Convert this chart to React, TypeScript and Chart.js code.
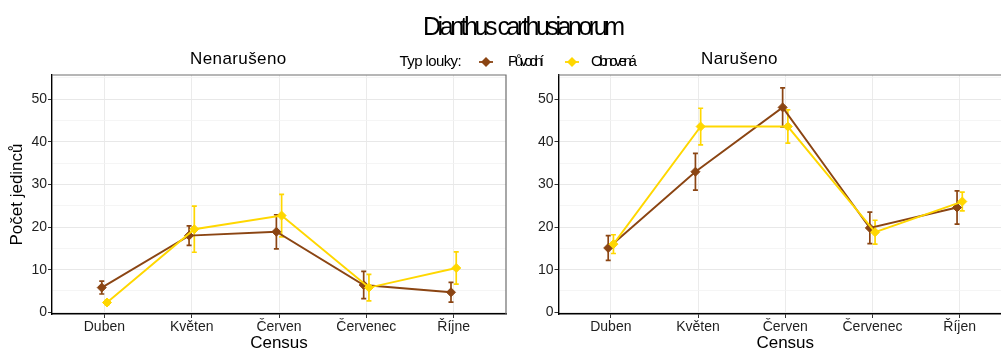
import React, { useEffect, useRef } from "react";
import { Chart, registerables } from "chart.js";

Chart.register(...registerables);

// Census months shown on each facet
const monthsUndisturbed = ["Duben", "Květen", "Červen", "Červenec", "Říjne"];
const monthsDisturbed = ["Duben", "Květen", "Červen", "Červenec", "Říjen"];

// y-axis ticks: labelled majors every 10, minor lines in between
const yTickValues = [0, 5, 10, 15, 20, 25, 30, 35, 40, 45, 50, 55];

// Nenarušeno facet – means and standard errors
const origMeanUndist = [5.8, 18.0, 18.9, 6.4, 4.7];
const origSeUndist = [1.5, 2.3, 4.0, 3.2, 2.3];
const restMeanUndist = [2.3, 19.5, 22.7, 5.8, 10.4];
const restSeUndist = [0.5, 5.4, 5.0, 3.1, 3.8];

// Narušeno facet – means and standard errors
const origMeanDist = [15.1, 33.0, 48.1, 19.8, 24.6];
const origSeDist = [2.9, 4.3, 4.6, 3.7, 3.9];
const restMeanDist = [16.0, 43.6, 43.6, 18.8, 26.0];
const restSeDist = [2.2, 4.3, 3.9, 2.8, 2.2];

const BROWN = "#8B4513";
const GOLD = "#FFD700";
const DODGE = 0.03;
const FONT = '"Liberation Sans", Arial, Helvetica, sans-serif';

type Series = { label: string; color: string; mean: number[]; se: number[]; shift: number };

// whiskers with caps, drawn under lines and points
const errorBars = {
  id: "errorBars",
  beforeDatasetsDraw(chart: any) {
    const { ctx } = chart;
    const xs = chart.scales.x;
    const ys = chart.scales.y;
    chart.data.datasets.forEach((ds: any) => {
      ctx.save();
      ctx.strokeStyle = ds.borderColor;
      ctx.lineWidth = 1.7;
      ds.data.forEach((p: any, i: number) => {
        const px = xs.getPixelForValue(p.x);
        const top = ys.getPixelForValue(p.y + ds.se[i]);
        const bot = ys.getPixelForValue(p.y - ds.se[i]);
        ctx.beginPath();
        ctx.moveTo(px, top);
        ctx.lineTo(px, bot);
        ctx.moveTo(px - 2.5, top);
        ctx.lineTo(px + 2.5, top);
        ctx.moveTo(px - 2.5, bot);
        ctx.lineTo(px + 2.5, bot);
        ctx.stroke();
      });
      ctx.restore();
    });
  },
};

// grey panel border on the top and right sides
const panelFrame = {
  id: "panelFrame",
  afterDatasetsDraw(chart: any) {
    const { ctx, chartArea: a } = chart;
    ctx.save();
    ctx.strokeStyle = "#6e6e6e";
    ctx.lineWidth = 1.2;
    ctx.beginPath();
    ctx.moveTo(a.left, a.top);
    ctx.lineTo(a.right, a.top);
    ctx.lineTo(a.right, a.bottom);
    ctx.stroke();
    ctx.restore();
  },
};

type PanelProps = {
  left: number;
  width: number;
  height: number;
  plotLeft: number;
  plotRight: number;
  plotTop: number;
  plotBottom: number;
  months: string[];
  series: Series[];
  yTitle?: string;
};

function FacetPanel(props: PanelProps) {
  const ref = useRef<HTMLCanvasElement>(null);
  const { left, width, height, plotLeft, plotRight, plotTop, plotBottom, months, series, yTitle } = props;

  useEffect(() => {
    const isMajor = (v: number) => v % 10 === 0;
    const chart = new Chart(ref.current as HTMLCanvasElement, {
      type: "line",
      data: {
        datasets: series.map((s, k) => ({
          label: s.label,
          data: s.mean.map((m, i) => ({ x: i + s.shift, y: m })),
          se: s.se,
          borderColor: s.color,
          backgroundColor: s.color,
          borderWidth: 1.9,
          pointStyle: "rectRot",
          pointRadius: 4.5,
          pointBorderWidth: 1,
          pointBorderColor: s.color,
          pointBackgroundColor: s.color,
          tension: 0,
          order: k === 0 ? 2 : 1,
        })) as any,
      },
      options: {
        animation: false,
        responsive: false,
        devicePixelRatio: 1,
        events: [],
        layout: { padding: { top: plotTop, right: width - plotRight, left: 0, bottom: 0 } },
        plugins: { legend: { display: false }, tooltip: { enabled: false } },
        scales: {
          x: {
            type: "linear",
            min: -0.6,
            max: months.length - 0.4,
            afterBuildTicks: (s: any) => {
              s.ticks = months.map((_, i) => ({ value: i }));
            },
            afterFit: (s: any) => {
              s.height = height - plotBottom;
            },
            ticks: {
              autoSkip: false,
              maxRotation: 0,
              padding: 1,
              color: "#1f1f1f",
              font: { family: FONT, size: 14 },
              callback: (v: any) => months[Math.round(Number(v))] ?? "",
            },
            grid: { color: "#ebebeb", lineWidth: 1, tickLength: 4, tickColor: "#333333" },
            border: { display: true, color: "#000000", width: 1.4 },
            title: {
              display: true,
              text: "Census",
              color: "#000000",
              font: { family: FONT, size: 17 },
              padding: { top: 0, bottom: 2 },
            },
          },
          y: {
            type: "linear",
            min: -0.4,
            max: 55.7,
            afterBuildTicks: (s: any) => {
              s.ticks = yTickValues.map((v) => ({ value: v }));
            },
            afterFit: (s: any) => {
              s.width = plotLeft;
            },
            ticks: {
              padding: 1,
              color: "#1f1f1f",
              font: { family: FONT, size: 14 },
              callback: (v: any) => (isMajor(Number(v)) ? String(v) : ""),
            },
            grid: {
              color: (c: any) => (isMajor(c.tick.value) ? "#e8e8e8" : "#f3f3f3"),
              lineWidth: (c: any) => (isMajor(c.tick.value) ? 1 : 0.8),
              tickLength: 4,
              tickColor: (c: any) => (isMajor(c.tick.value) ? "#333333" : "rgba(0,0,0,0)"),
            },
            border: { display: true, color: "#000000", width: 1.4 },
            title: {
              display: !!yTitle,
              text: yTitle || "",
              color: "#000000",
              font: { family: FONT, size: 17 },
              padding: { top: 7.5, bottom: 0 },
            },
          },
        },
      } as any,
      plugins: [errorBars, panelFrame],
    });
    return () => chart.destroy();
  }, []);

  return (
    <canvas
      ref={ref}
      width={width}
      height={height}
      style={{ position: "absolute", left, top: 0, width, height }}
    />
  );
}

const undisturbedSeries: Series[] = [
  { label: "Původní", color: BROWN, mean: origMeanUndist, se: origSeUndist, shift: -DODGE },
  { label: "Obnovená", color: GOLD, mean: restMeanUndist, se: restSeUndist, shift: DODGE },
];
const disturbedSeries: Series[] = [
  { label: "Původní", color: BROWN, mean: origMeanDist, se: origSeDist, shift: -DODGE },
  { label: "Obnovená", color: GOLD, mean: restMeanDist, se: restSeDist, shift: DODGE },
];

const textBase: React.CSSProperties = {
  position: "absolute",
  whiteSpace: "nowrap",
  fontFamily: FONT,
  color: "#000",
  margin: 0,
};

function LegendKey({ x, color }: { x: number; color: string }) {
  return (
    <g>
      <line x1={x - 7} y1={6} x2={x + 7} y2={6} stroke={color} strokeWidth={1.8} />
      <polygon points={`${x - 5},6 ${x},1 ${x + 5},6 ${x},11`} fill={color} />
    </g>
  );
}

export default function App() {
  return (
    <div
      style={{
        position: "absolute",
        left: 0,
        top: 0,
        width: 1001,
        height: 350,
        overflow: "hidden",
        background: "#ffffff",
      }}
    >
      <FacetPanel
        left={0}
        width={520}
        height={356}
        plotLeft={52}
        plotRight={506}
        plotTop={75}
        plotBottom={314}
        months={monthsUndisturbed}
        series={undisturbedSeries}
        yTitle="Počet jedinců"
      />
      <FacetPanel
        left={510}
        width={510}
        height={356}
        plotLeft={48.5}
        plotRight={502}
        plotTop={75}
        plotBottom={314}
        months={monthsDisturbed}
        series={disturbedSeries}
      />

      <div style={{ ...textBase, left: 423, top: 13.8, fontSize: 25, lineHeight: "25px", letterSpacing: "-3.45px" }}>
        Dianthus carthusianorum
      </div>

      <div style={{ ...textBase, left: 190, top: 50, fontSize: 17, lineHeight: "17px", letterSpacing: "0.4px" }}>
        Nenarušeno
      </div>
      <div style={{ ...textBase, left: 701, top: 50, fontSize: 17, lineHeight: "17px", letterSpacing: "0.4px" }}>
        Narušeno
      </div>

      <div style={{ ...textBase, left: 399.5, top: 53.3, fontSize: 15, lineHeight: "15px", letterSpacing: "-0.6px" }}>
        Typ louky:
      </div>
      <svg style={{ position: "absolute", left: 0, top: 55.7 }} width={1001} height={12}>
        <LegendKey x={486} color={BROWN} />
        <LegendKey x={572} color={GOLD} />
      </svg>
      <div style={{ ...textBase, left: 508, top: 53.3, fontSize: 15, lineHeight: "15px", letterSpacing: "-3.2px" }}>
        Původní
      </div>
      <div style={{ ...textBase, left: 591, top: 53.3, fontSize: 15, lineHeight: "15px", letterSpacing: "-3.35px" }}>
        Obnovená
      </div>
    </div>
  );
}
